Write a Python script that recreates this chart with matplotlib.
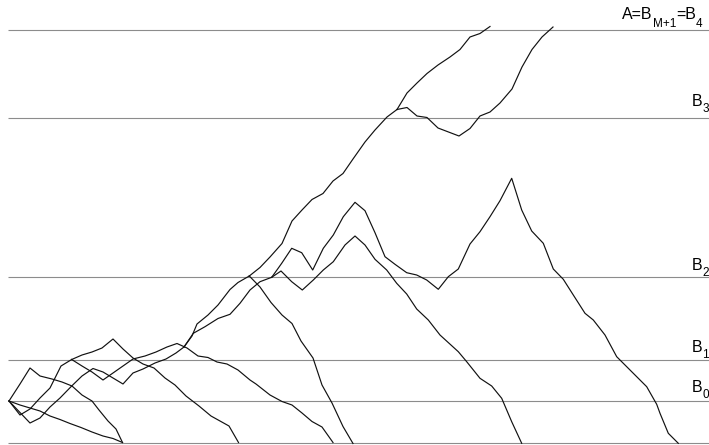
import matplotlib
matplotlib.use("Agg")
import matplotlib.pyplot as plt

plt.rcParams['font.family'] = ['Liberation Sans', 'DejaVu Sans']

# ---- data (time on x, position on y; picture units, y grows downwards) ----
level_y = [442.5, 401, 359.5, 277, 118, 29.5]          # 0, B0, B1, B2, B3, A
# each label: list of (text, is_subscript)
level_labels = [
    [],
    [('B', False), ('0', True)],
    [('B', False), ('1', True)],
    [('B', False), ('2', True)],
    [('B', False), ('3', True)],
    [('A=B', False), ('M+1', True), ('=B', False), ('4', True)],
]
label_x = [0, 691.5, 691.5, 691.5, 691.5, 622]
label_base = [0, 391.5, 352.5, 270, 106, 19]
label_drop = [0, 4.6, 4.3, 4.3, 4.6, 5.8]   # subscript drop below baseline (points)

path_gentle_t = [9, 20, 30, 40, 50, 60, 70, 81, 92, 103, 113, 122.5]
path_gentle_y = [401, 405, 408, 411, 416, 419.5, 423.5, 427.5, 432, 436, 438.5, 442.5]

path1_t = [9, 20, 30, 40, 52, 62, 72, 82, 92, 99, 108, 116, 122.5]
path1_y = [401, 384, 368, 376, 379, 382, 386, 395, 401, 410, 421, 429, 442.5]

path2_t = [9, 20, 30, 40, 50, 61, 71.7]
path2_y = [401, 415, 409, 398, 388, 366, 359.5]

path2a_t = [71.7, 82, 92, 102, 113, 123, 133, 143, 154, 165, 175, 186, 199, 211, 229, 238.5]
path2a_y = [359.5, 355, 352, 348, 339, 349, 358, 364, 368, 378, 385, 396, 406, 416, 426, 442.5]

path2b_t = [71.7, 82, 92, 103, 113, 123, 133, 145, 156, 167, 177, 187, 198, 208, 217, 227,
            238, 250, 256, 270, 282, 292, 302, 312, 322, 333]
path2b_y = [359.5, 366, 372, 380, 373, 366, 359, 356, 352, 347, 343.5, 348, 356, 357.5, 362, 364,
            370, 380, 384, 395, 401.5, 405, 413, 421.5, 427, 442.5]

path3_t = [9, 30, 40, 50, 60, 71.7, 82, 93, 103, 113, 123, 133, 143, 155, 166, 176, 184]
path3_y = [401, 423, 418, 407, 398, 386, 376, 368.5, 372, 378, 384, 373, 369, 363, 359, 353, 347]

path3a_t = [184, 192, 197, 208, 218, 230, 238, 249.3]
path3a_y = [347, 336, 324, 315, 305, 289.5, 282.5, 276]

path3a_up_t = [249.3, 260, 270, 282, 292, 302, 312, 323, 333, 343, 353, 365, 375, 387, 397]
path3a_up_y = [276, 267.5, 257, 243.5, 221, 210, 199.5, 193.5, 181, 173.5, 159, 142, 130, 117, 109.5]

path3a_up1_t = [397, 407, 417, 427, 438, 450, 460, 470, 480, 490]
path3a_up1_y = [109.5, 93, 83, 73.5, 65, 57, 49.5, 37, 33.5, 26.5]

path3a_up2_t = [397, 407, 417, 427, 438, 459, 470, 480, 490, 500, 512, 522, 532, 542, 553]
path3a_up2_y = [109.5, 107.5, 116, 117.5, 128, 136, 128.5, 116, 112, 103, 89, 67, 49.5, 37, 27]

path3a_down_t = [249.3, 260, 271, 282, 292, 301, 313, 322, 332, 343, 353]
path3a_down_y = [276, 287, 302.5, 315, 323.5, 341, 358, 385, 403, 426.5, 443.5]

path3b_t = [184, 193.3, 205, 218, 230, 240, 250, 260, 271.7]
path3b_y = [347, 333.3, 326.7, 318.5, 314.3, 303.3, 290, 281.7, 277.3]

path3b_up_t = [271.7, 281.7, 291.7, 301.7, 312.7, 323.3, 333.3, 343.3, 355, 365, 375, 385, 395,
               406.7, 416.7, 426.7, 438.3, 448.3, 458.3, 470, 480, 490, 500, 511.7, 521.7, 531.7,
               543.3, 553.3, 563.3, 573.3, 585, 593.3, 605, 616.7, 626.7, 636.7, 646.7, 656.7,
               660, 668.3, 678.3]
path3b_up_y = [277.3, 263.3, 248.3, 252.7, 270, 248.3, 235, 216.7, 202.3, 210.7, 232.7, 256.7, 264.3,
               272.7, 275, 280, 289.3, 276.7, 269, 244, 231.7, 216.7, 200.7, 178.3, 210, 231,
               243.3, 269, 279.3, 295, 313.3, 320, 335, 356.7, 366.7, 376.7, 386.7, 404.3,
               413.3, 433.3, 443.3]

path3b_down_t = [271.7, 281, 291.7, 302.3, 313.3, 323.3, 333.3, 345, 355, 365, 375, 386.7, 396.7,
                 406.7, 416.7, 428.3, 440, 458.3, 466.7, 480, 491.7, 501.7, 511.7, 521.7]
path3b_down_y = [277.3, 271, 281.7, 290, 280, 270, 261.7, 245, 236, 245, 259.3, 270, 283.3,
                 294, 309, 320, 335, 351.7, 361.7, 378.3, 386, 398.3, 421.7, 443.3]

paths = [
    (path_gentle_t, path_gentle_y), (path1_t, path1_y),
    (path2_t, path2_y), (path2a_t, path2a_y), (path2b_t, path2b_y),
    (path3_t, path3_y), (path3a_t, path3a_y), (path3a_up_t, path3a_up_y),
    (path3a_up1_t, path3a_up1_y), (path3a_up2_t, path3a_up2_y),
    (path3a_down_t, path3a_down_y), (path3b_t, path3b_y),
    (path3b_up_t, path3b_up_y), (path3b_down_t, path3b_down_y),
]

MAIN_SIZE = 11.5
SUB_SIZE = 8.5

# ---- figure ----
fig = plt.figure(figsize=(7.09, 4.45), dpi=100)
ax = fig.add_axes([0, 0, 1, 1])
ax.set_xlim(0, 709)
ax.set_ylim(445, 0)
ax.axis('off')

for yv in level_y:
    ax.plot([8, 709], [yv, yv], color='#8c8c8c', lw=0.8, solid_capstyle='butt', zorder=1)

for t, y in paths:
    ax.plot(t, y, color='#111111', lw=0.85, zorder=2)

for parts, lx, lb, drop in zip(level_labels, label_x, label_base, label_drop):
    prev = None
    for s, is_sub in parts:
        size = SUB_SIZE if is_sub else MAIN_SIZE
        dy = -drop if is_sub else 0
        if prev is None:
            prev = ax.text(lx, lb, s, fontsize=size, ha='left', va='baseline',
                           color='black', clip_on=False)
        else:
            prev = ax.annotate(s, xy=(1, lb), xycoords=(prev, 'data'),
                               xytext=(0, dy), textcoords='offset points',
                               fontsize=size, ha='left', va='baseline',
                               color='black', annotation_clip=False)

fig.savefig('out.png', dpi=100)
